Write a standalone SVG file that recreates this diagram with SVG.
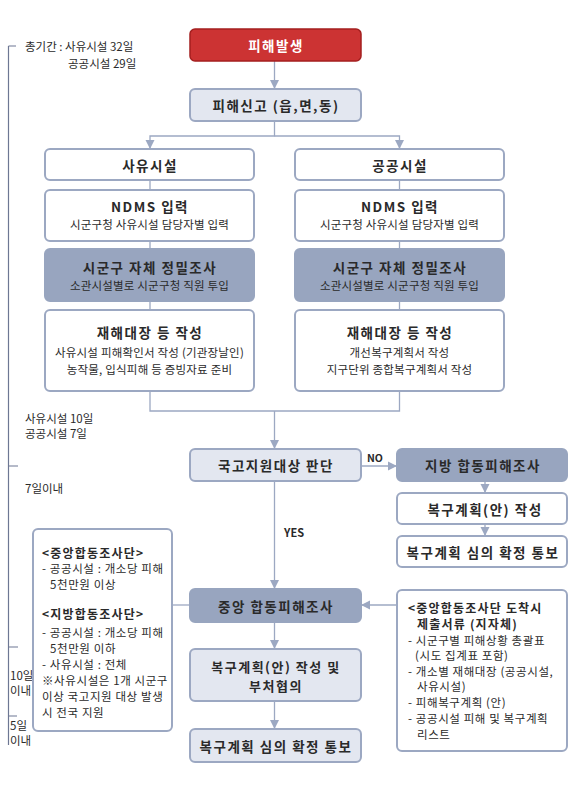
<svg xmlns="http://www.w3.org/2000/svg" width="570" height="810" viewBox="0 0 570 810">
<style>
text{font-family:"Noto Sans CJK KR","Liberation Sans",sans-serif;fill:#2a2a2a;dominant-baseline:central}
.t{font-size:13.5px;font-weight:bold;text-anchor:middle;letter-spacing:1.5px}
.s{font-size:11.5px;text-anchor:middle;letter-spacing:0.2px}
.w{fill:#ffffff;stroke:#9ca8c2;stroke-width:2}
.l{fill:#e3e7f0;stroke:#9ca8c2;stroke-width:2}
.g{fill:#98a5bf;stroke:#98a5bf;stroke-width:2}
.r{fill:#cc3333;stroke:#a41f1f;stroke-width:1.5}
.c{fill:none;stroke:#9ca8c2;stroke-width:1.3}
.tl{fill:none;stroke:#6d7793;stroke-width:1.2}
.b{font-size:11.5px;letter-spacing:0.6px}
.bb{font-size:12px;font-weight:bold;letter-spacing:1.2px}
.m{font-size:11.5px}
</style>
<defs>
<marker id="ah" markerUnits="userSpaceOnUse" markerWidth="10" markerHeight="10" refX="9" refY="5" orient="auto">
<path d="M0,0.5 L9,5 L0,9.5 z" fill="#9ca8c2"/>
</marker>
</defs>

<g id="timeline">
<path class="tl" d="M8.5,46 V745 M8.5,46 H16 M8.5,466 H18 M8.5,647 H18 M8.5,716 H17"/>
<text class="m" x="25" y="46">총기간 : 사유시설 32일</text>
<text class="m" x="68" y="63">공공시설 29일</text>
<text class="m" x="25" y="418">사유시설 10일</text>
<text class="m" x="25" y="433">공공시설 7일</text>
<text class="m" x="25" y="488">7일이내</text>
<text class="m" x="10" y="675">10일</text>
<text class="m" x="10" y="690">이내</text>
<text class="m" x="10" y="725">5일</text>
<text class="m" x="10" y="740">이내</text>
</g>

<g id="connectors">
<path class="c" d="M274.5,61 V89" marker-end="url(#ah)"/>
<path class="c" d="M274.5,121 V136 H150 V149" marker-end="url(#ah)"/>
<path class="c" d="M274.5,136 H399.5 V149" marker-end="url(#ah)"/>
<path class="c" d="M150,180 V190 M150,241 V249 M150,301 V310 M399.5,180 V190 M399.5,241 V249 M399.5,301 V310"/>
<path class="c" d="M150,391 V411 H399.5 V391"/>
<path class="c" d="M274.5,411 V449" marker-end="url(#ah)"/>
<path class="c" d="M274.5,481 V589" marker-end="url(#ah)"/>
<path class="c" d="M361,466 H397" marker-end="url(#ah)"/>
<path class="c" d="M485,481 V493" marker-end="url(#ah)"/>
<path class="c" d="M485,524 V536" marker-end="url(#ah)"/>
<path class="c" d="M274.5,622 V649" marker-end="url(#ah)"/>
<path class="c" d="M274.5,701 V729" marker-end="url(#ah)"/>
<path class="c" d="M172,605 H190"/>
<path class="c" d="M397,605 H361" marker-end="url(#ah)"/>
<text x="367" y="457" style="font-size:10.5px;font-weight:bold">NO</text>
<text x="284" y="532" style="font-size:11px;font-weight:bold">YES</text>
</g>

<g id="n-occur">
<rect class="r" x="190" y="29" width="171" height="32" rx="5"/>
<text class="t" x="276" y="45" style="fill:#ffffff">피해발생</text>
</g>
<g id="n-report">
<rect class="l" x="190" y="89" width="171" height="32" rx="5"/>
<text class="t" x="276" y="105">피해신고 (읍,면,동)</text>
</g>

<g id="n-private">
<rect class="w" x="45" y="149" width="209" height="31" rx="5"/>
<text class="t" x="150" y="165">사유시설</text>
</g>
<g id="n-public">
<rect class="w" x="295" y="149" width="209" height="31" rx="5"/>
<text class="t" x="400" y="165">공공시설</text>
</g>

<g id="n-ndms-l">
<rect class="w" x="45" y="190" width="209" height="51" rx="5"/>
<text class="t" x="150" y="206">NDMS 입력</text>
<text class="s" x="149.5" y="224">시군구청 사유시설 담당자별 입력</text>
</g>
<g id="n-ndms-r">
<rect class="w" x="295" y="190" width="209" height="51" rx="5"/>
<text class="t" x="400" y="206">NDMS 입력</text>
<text class="s" x="399.5" y="224">시군구청 사유시설 담당자별 입력</text>
</g>

<g id="n-survey-l">
<rect class="g" x="45" y="249" width="209" height="52" rx="5"/>
<text class="t" x="150" y="267">시군구 자체 정밀조사</text>
<text class="s" x="149.5" y="285">소관시설별로 시군구청 직원 투입</text>
</g>
<g id="n-survey-r">
<rect class="g" x="295" y="249" width="209" height="52" rx="5"/>
<text class="t" x="400" y="267">시군구 자체 정밀조사</text>
<text class="s" x="399.5" y="285">소관시설별로 시군구청 직원 투입</text>
</g>

<g id="n-ledger-l">
<rect class="w" x="45" y="310" width="209" height="81" rx="5"/>
<text class="t" x="150" y="332">재해대장 등 작성</text>
<text class="s" x="149.5" y="352">사유시설 피해확인서 작성 (기관장날인)</text>
<text class="s" x="149.5" y="369">농작물, 입식피해 등 증빙자료 준비</text>
</g>
<g id="n-ledger-r">
<rect class="w" x="295" y="310" width="209" height="81" rx="5"/>
<text class="t" x="400" y="332">재해대장 등 작성</text>
<text class="s" x="399.5" y="352">개선복구계획서 작성</text>
<text class="s" x="399.5" y="369">지구단위 종합복구계획서 작성</text>
</g>

<g id="n-judge">
<rect class="l" x="190" y="449" width="171" height="32" rx="5"/>
<text class="t" x="276" y="465">국고지원대상 판단</text>
</g>

<g id="n-local">
<rect class="g" x="397" y="449" width="170" height="32" rx="5"/>
<text class="t" x="483" y="465">지방 합동피해조사</text>
</g>
<g id="n-local-plan">
<rect class="w" x="397" y="493" width="170" height="31" rx="5"/>
<text class="t" x="485" y="509">복구계획(안) 작성</text>
</g>
<g id="n-local-notice">
<rect class="w" x="397" y="536" width="170" height="31" rx="5"/>
<text class="t" x="483" y="552">복구계획 심의 확정 통보</text>
</g>

<g id="n-central">
<rect class="g" x="190" y="589" width="171" height="33" rx="5"/>
<text class="t" x="276" y="606">중앙 합동피해조사</text>
</g>
<g id="n-central-plan">
<rect class="l" x="190" y="649" width="171" height="52" rx="5"/>
<text class="t" x="276" y="666" style="font-size:13px">복구계획(안) 작성 및</text>
<text class="t" x="276" y="685" style="font-size:13px">부처협의</text>
</g>
<g id="n-central-notice">
<rect class="l" x="190" y="729" width="171" height="33" rx="5"/>
<text class="t" x="276" y="746">복구계획 심의 확정 통보</text>
</g>

<g id="n-teams">
<rect class="w" x="33" y="529" width="139" height="202" rx="5"/>
<text class="bb" x="42" y="552">&lt;중앙합동조사단&gt;</text>
<text class="b" x="42" y="568">- 공공시설 : 개소당 피해</text>
<text class="b" x="50" y="584">5천만원 이상</text>
<text class="bb" x="42" y="613">&lt;지방합동조사단&gt;</text>
<text class="b" x="42" y="632">- 공공시설 : 개소당 피해</text>
<text class="b" x="50" y="648">5천만원 이하</text>
<text class="b" x="42" y="664">- 사유시설 : 전체</text>
<text class="b" x="42" y="680">※사유시설은 1개 시군구</text>
<text class="b" x="42" y="696">이상 국고지원 대상 발생</text>
<text class="b" x="42" y="712">시 전국 지원</text>
</g>

<g id="n-docs">
<rect class="w" x="397" y="590" width="170" height="161" rx="5"/>
<text class="bb" x="408" y="607">&lt;중앙합동조사단 도착시</text>
<text class="bb" x="417" y="623">제출서류 (지자체)</text>
<text class="b" x="408" y="640">- 시군구별 피해상황 총괄표</text>
<text class="b" x="415" y="655">(시도 집계표 포함)</text>
<text class="b" x="408" y="671">- 개소별 재해대장 (공공시설,</text>
<text class="b" x="417" y="686">사유시설)</text>
<text class="b" x="408" y="702">- 피해복구계획 (안)</text>
<text class="b" x="408" y="718">- 공공시설 피해 및 복구계획</text>
<text class="b" x="417" y="734">리스트</text>
</g>
</svg>
